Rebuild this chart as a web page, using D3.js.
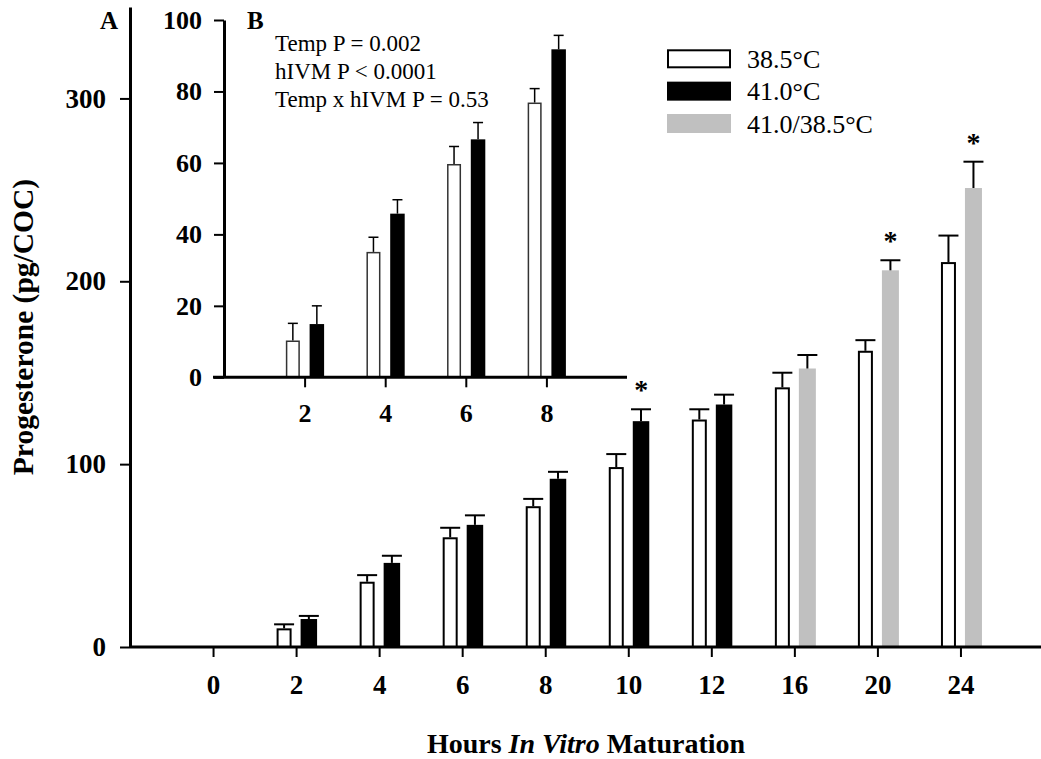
<!DOCTYPE html>
<html>
<head>
<meta charset="utf-8">
<script src="https://cdn.jsdelivr.net/npm/d3@7"></script>
<style>
  html, body { margin: 0; padding: 0; background: #fff; }
  svg { display: block; font-family: "Liberation Serif", "Times New Roman", serif; }
</style>
</head>
<body>
<svg id="chart" width="1041" height="759"></svg>
<script>
// ---------- data ----------
const categories = ["0", "2", "4", "6", "8", "10", "12", "16", "20", "24"];
const yTicksMain = [0, 100, 200, 300];
const t385 = [0, 10.2, 35.7, 60, 77, 98.4, 124.4, 142, 162, 210.5];
const t385SE = [0, 2.2, 3.6, 5.2, 4, 7.1, 5.6, 8, 5.8, 14.5];
const t410 = [0, 15.3, 46, 66.8, 92, 123.5, 132.6, null, null, null];
const t410SE = [0, 1.7, 3.9, 5.2, 3.8, 6.5, 5.4, null, null, null];
const t410to385 = [null, null, null, null, null, null, null, 152.3, 206, 251];
const t410to385SE = [null, null, null, null, null, null, null, 7.4, 5.5, 14.4];
const significant = ["10", "20", "24"];

const insetCats = ["2", "4", "6", "8"];
const yTicksInset = [0, 20, 40, 60, 80, 100];
const in385 = [10.3, 35.1, 59.7, 76.9];
const in385SE = [4.8, 4.1, 4.9, 3.9];
const in410 = [14.9, 45.8, 66.6, 91.8];
const in410SE = [5.1, 3.9, 4.7, 3.9];

const legendLabels = ["38.5°C", "41.0°C", "41.0/38.5°C"];
const legendFills = ["#ffffff", "#000000", "#c0c0c0"];
const statLines = ["Temp P = 0.002", "hIVM P < 0.0001", "Temp x hIVM P = 0.53"];

// ---------- setup ----------
const svg = d3.select("#chart");
const FONT = '"Liberation Serif", "Times New Roman", serif';

// main scales
const x = d3.scalePoint().domain(categories).range([130, 1043.5]).padding(1);
const y = d3.scaleLinear().domain([0, 350]).range([647, 7]);

// inset scales
const xi = d3.scalePoint().domain(insetCats).range([224, 627]).padding(1);
const yi = d3.scaleLinear().domain([0, 100]).range([377.3, 20]);

function drawBars(g, cats, xs, ys, vals, ses, opts) {
  const data = cats.map((c, i) => ({c, v: vals[i], se: ses[i]})).filter(d => d.v != null && d.v > 0);
  const bw = opts.width;
  const gx = d => xs(d.c) + opts.offset;
  g.selectAll(null).data(data).enter().append("rect")
    .attr("x", d => gx(d) + (opts.stroke ? 1 : 0))
    .attr("y", d => ys(d.v) + (opts.stroke ? opts.sw / 2 : 0))
    .attr("width", d => bw - (opts.stroke ? 2 : 0))
    .attr("height", d => ys(0) - ys(d.v) - (opts.stroke ? opts.sw / 2 : 0))
    .attr("fill", opts.fill)
    .attr("stroke", opts.stroke || "none")
    .attr("stroke-width", opts.sw || 0);
  // error bars
  const cx = d => gx(d) + bw / 2;
  g.selectAll(null).data(data).enter().append("line")
    .attr("x1", cx).attr("x2", cx)
    .attr("y1", d => ys(d.v)).attr("y2", d => ys(d.v + d.se))
    .attr("stroke", "#000").attr("stroke-width", opts.ew);
  g.selectAll(null).data(data).enter().append("line")
    .attr("x1", d => cx(d) - opts.cap / 2).attr("x2", d => cx(d) + opts.cap / 2)
    .attr("y1", d => ys(d.v + d.se)).attr("y2", d => ys(d.v + d.se))
    .attr("stroke", "#000").attr("stroke-width", opts.ew);
  return data;
}

// ---------- main panel ----------
const gMain = svg.append("g");
drawBars(gMain, categories, x, y, t385, t385SE, {offset: -19.5, width: 15, fill: "#fff", stroke: "#000", sw: 2, ew: 2, cap: 20});
drawBars(gMain, categories, x, y, t410, t410SE, {offset: 4.5, width: 16.5, fill: "#000", ew: 2, cap: 20});
drawBars(gMain, categories, x, y, t410to385, t410to385SE, {offset: 4.5, width: 17, fill: "#c0c0c0", ew: 2, cap: 20});

// asterisks
const sigData = significant.map(c => {
  const i = categories.indexOf(c);
  const v = t410[i] != null ? t410[i] : t410to385[i];
  const se = t410[i] != null ? t410SE[i] : t410to385SE[i];
  return {c, top: v + se};
});
gMain.selectAll(null).data(sigData).enter().append("text")
  .attr("x", d => x(d.c) + 4.5 + 8.5)
  .attr("y", d => y(d.top) - 10)
  .attr("text-anchor", "middle")
  .attr("font-family", FONT).attr("font-weight", "bold").attr("font-size", 28)
  .text("*");

// main axes
const xAxis = d3.axisBottom(x).tickSizeInner(10).tickSizeOuter(0).tickPadding(18);
const gx = gMain.append("g").attr("transform", `translate(0,${y(0)})`).call(xAxis);
gx.select(".domain").attr("stroke-width", 3).attr("d", "M130,0H1041");
gx.selectAll(".tick line").attr("stroke-width", 2);
gx.selectAll(".tick text").attr("font-family", FONT).attr("font-weight", "bold").attr("font-size", 27).attr("fill", "#000");

const yAxis = d3.axisLeft(y).tickValues(yTicksMain).tickSizeInner(10).tickSizeOuter(0).tickPadding(14);
const gy = gMain.append("g").attr("transform", "translate(130,0)").call(yAxis);
gy.select(".domain").attr("stroke-width", 3);
gy.selectAll(".tick line").attr("stroke-width", 2);
gy.selectAll(".tick text").attr("font-family", FONT).attr("font-weight", "bold").attr("font-size", 27).attr("fill", "#000");

// axis titles
svg.append("text")
  .attr("transform", "translate(33,327) rotate(-90)")
  .attr("text-anchor", "middle")
  .attr("font-family", FONT).attr("font-weight", "bold").attr("font-size", 29.5)
  .text("Progesterone (pg/COC)");

const xt = svg.append("text")
  .attr("x", 586).attr("y", 753)
  .attr("text-anchor", "middle")
  .attr("font-family", FONT).attr("font-weight", "bold").attr("font-size", 28);
xt.append("tspan").text("Hours ");
xt.append("tspan").attr("font-style", "italic").text("In Vitro");
xt.append("tspan").text(" Maturation");

// panel labels
svg.append("text").attr("x", 100).attr("y", 29)
  .attr("font-family", FONT).attr("font-weight", "bold").attr("font-size", 25).text("A");
svg.append("text").attr("x", 247).attr("y", 29)
  .attr("font-family", FONT).attr("font-weight", "bold").attr("font-size", 25).text("B");

// ---------- inset ----------
const gIn = svg.append("g");
drawBars(gIn, insetCats, xi, yi, in385, in385SE, {offset: -19, width: 14.5, fill: "#fff", stroke: "#333", sw: 1.5, ew: 1.5, cap: 10});
drawBars(gIn, insetCats, xi, yi, in410, in410SE, {offset: 5, width: 14.5, fill: "#000", ew: 1.5, cap: 10});

const xiAxis = d3.axisBottom(xi).tickSizeInner(10).tickSizeOuter(0).tickPadding(16);
const gxi = gIn.append("g").attr("transform", `translate(0,${yi(0)})`).call(xiAxis);
gxi.select(".domain").attr("stroke-width", 3).attr("d", "M213,0H627");
gxi.selectAll(".tick line").attr("stroke-width", 2);
gxi.selectAll(".tick text").attr("font-family", FONT).attr("font-weight", "bold").attr("font-size", 26).attr("fill", "#000");

const yiAxis = d3.axisLeft(yi).tickValues(yTicksInset).tickSizeInner(10).tickSizeOuter(0).tickPadding(12);
const gyi = gIn.append("g").attr("transform", "translate(224,0)").call(yiAxis);
gyi.select(".domain").attr("stroke-width", 3);
gyi.selectAll(".tick line").attr("stroke-width", 2);
gyi.selectAll(".tick text").attr("font-family", FONT).attr("font-weight", "bold").attr("font-size", 26).attr("fill", "#000");

// stats text
svg.append("g").selectAll("text").data(statLines).enter().append("text")
  .attr("x", 275).attr("y", (d, i) => 50.7 + i * 28.3)
  .attr("font-family", FONT).attr("font-size", 23)
  .text(d => d);

// ---------- legend ----------
const lg = svg.append("g");
const rowY = d3.scalePoint().domain(legendLabels).range([49.3, 114]);
lg.selectAll("rect").data(legendLabels).enter().append("rect")
  .attr("x", (d, i) => i === 0 ? 668 : 667)
  .attr("y", (d, i) => rowY(d) + (i === 0 ? 1 : 0))
  .attr("width", (d, i) => i === 0 ? 62 : 64)
  .attr("height", (d, i) => i === 0 ? 17 : 19)
  .attr("fill", (d, i) => legendFills[i])
  .attr("stroke", (d, i) => i === 0 ? "#000" : "none")
  .attr("stroke-width", 2);
lg.selectAll("text").data(legendLabels).enter().append("text")
  .attr("x", 747).attr("y", d => rowY(d) + 18.5)
  .attr("font-family", FONT).attr("font-size", 26)
  .text(d => d);
</script>
</body>
</html>
